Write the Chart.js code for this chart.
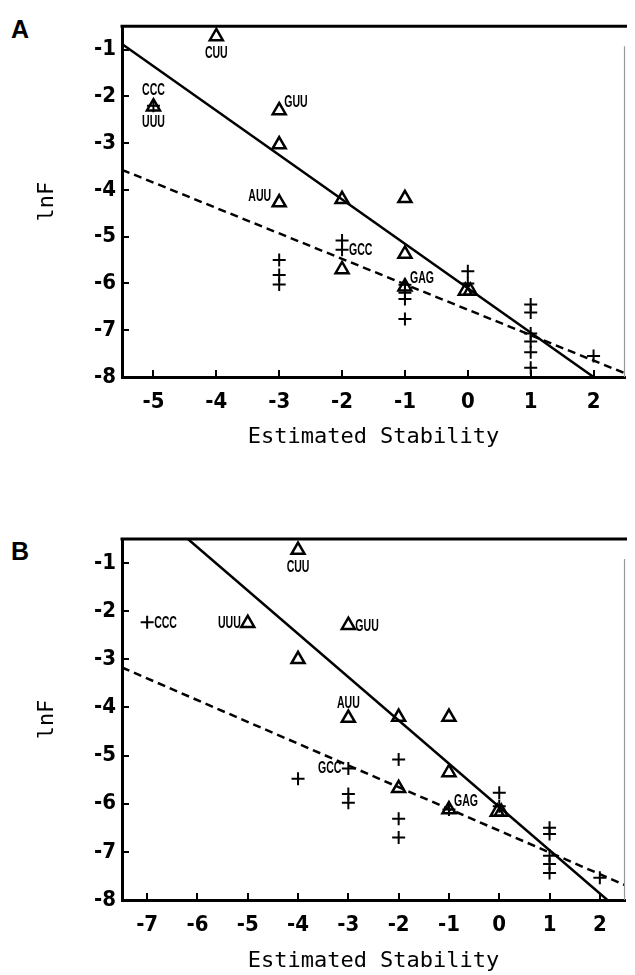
<!DOCTYPE html>
<html>
<head>
<meta charset="utf-8">
<script src="https://cdn.jsdelivr.net/npm/chart.js@4.4.1/dist/chart.umd.min.js"></script>
<style>
html, body { margin: 0; padding: 0; background: #fff; }
body { width: 635px; height: 975px; position: relative; overflow: hidden; }
canvas { position: absolute; left: 0; }
#panelA { top: 0; }
#panelB { top: 480px; }
.letra { position: absolute; font-family: "Liberation Sans", Arial, sans-serif; font-weight: bold; font-size: 25px; line-height: 25px; color: #000; }
</style>
</head>
<body>
<div class="letra" style="left:11px; top:17px;">A</div>
<div class="letra" style="left:11px; top:539px;">B</div>
<canvas id="panelA" width="635" height="480"></canvas>
<canvas id="panelB" width="635" height="495"></canvas>
<script>
// Marcas de los ejes
const ticksY = [-8, -7, -6, -5, -4, -3, -2, -1];
const ticksXA = [-5, -4, -3, -2, -1, 0, 1, 2];
const ticksXB = [-7, -6, -5, -4, -3, -2, -1, 0, 1, 2];

// Panel A: triangulos, cruces y las dos rectas
const triangulosA = [[-4, -0.72], [-5, -2.22], [-3, -2.3], [-3, -3.03], [-3, -4.27], [-2, -4.2], [-1, -4.18],
    [-1, -5.37], [-2, -5.7], [-1, -6.07], [-0.04, -6.16], [0.04, -6.16]];
const crucesA = [[-5, -2.2], [-3, -5.5], [-3, -5.82], [-3, -6.02], [-2, -5.08], [-2, -5.28], [-1, -6.03],
    [-1, -6.2], [-1, -6.33], [-1, -6.76], [0, -5.74], [0, -6.0], [1, -6.45], [1, -6.62], [1, -7.07],
    [1, -7.24], [1, -7.47], [1, -7.8], [2, -7.55]];
const solidaA = [[-5.5, -0.88], [2.0, -8.0]];
const punteadaA = [[-5.5, -3.57], [2.5, -7.92]];
const etiquetasA = [["CUU", -4, -0.72, "abajo"], ["CCC", -5, -2.2, "arriba"], ["UUU", -5, -2.2, "abajo"],
    ["GUU", -3, -2.3, "sup"], ["AUU", -3, -4.27, "izqsup"], ["GCC", -2, -5.28, "der"], ["GAG", -1, -6.07, "sup"]];

// Panel B
const triangulosB = [[-4, -0.73], [-5, -2.25], [-3, -2.29], [-4, -3.0], [-3, -4.22], [-2, -4.2], [-1, -4.2],
    [-1, -5.35], [-2, -5.68], [-1, -6.12], [-0.04, -6.17], [0.04, -6.17]];
const crucesB = [[-7, -2.23], [-4, -5.48], [-3, -5.27], [-3, -5.8], [-3, -5.98], [-2, -5.08], [-2, -6.31],
    [-2, -6.7], [-1, -6.12], [0, -5.77], [0, -6.05], [1, -6.5], [1, -6.63], [1, -7.08], [1, -7.25],
    [1, -7.44], [2, -7.54]];
const solidaB = [[-6.19, -0.5], [2.15, -8.0]];
const punteadaB = [[-7.5, -3.17], [2.5, -7.69]];
const etiquetasB = [["CUU", -4, -0.73, "abajo"], ["CCC", -7, -2.23, "der"], ["UUU", -5, -2.25, "izq"],
    ["GUU", -3, -2.29, "der"], ["AUU", -3, -4.22, "arriba"], ["GCC", -3, -5.27, "izq"], ["GAG", -1, -6.12, "sup"]];

// desplazamiento de cada etiqueta segun donde va
const lugares = {
    abajo: { dx: 0, dy: 17, align: "center" },
    arriba: { dx: 0, dy: -15, align: "center" },
    der: { dx: 7, dy: 1, align: "left" },
    izq: { dx: -7, dy: 0, align: "right" },
    sup: { dx: 5, dy: -8, align: "left" },
    izqsup: { dx: -8, dy: -6, align: "right" },
};

const fuenteNum = "'Liberation Sans Narrow', 'DejaVu Sans Condensed', sans-serif";
const aXY = (arr) => arr.map((p) => ({ x: p[0], y: p[1] }));

const marco = {
    id: "marco",
    afterDraw(chart) {
        const { ctx, chartArea: a, scales } = chart;
        ctx.save();
        ctx.strokeStyle = "#000";
        ctx.lineWidth = 3;
        ctx.beginPath();
        ctx.moveTo(a.left - 1.5, a.top);
        ctx.lineTo(a.right + 2, a.top);
        ctx.stroke();
        ctx.strokeStyle = "#999";
        ctx.lineWidth = 1.2;
        ctx.beginPath();
        ctx.moveTo(a.right - 0.5, a.top + 20);
        ctx.lineTo(a.right - 0.5, a.bottom);
        ctx.stroke();
        // etiquetas de los codones
        ctx.fillStyle = "#000";
        ctx.font = "bold 17px 'Liberation Sans', Arial, sans-serif";
        ctx.textBaseline = "middle";
        chart.options.plugins.marco.etiquetas.forEach((e) => {
            const l = lugares[e[3]];
            const px = scales.x.getPixelForValue(e[1]) + l.dx;
            const py = scales.y.getPixelForValue(e[2]) + l.dy;
            ctx.save();
            ctx.translate(px, py);
            ctx.scale(0.62, 1);
            ctx.textAlign = l.align;
            ctx.fillText(e[0], 0, 0);
            ctx.restore();
        });
        ctx.restore();
    },
};

function grafico(id, c) {
    new Chart(document.getElementById(id), {
        type: "scatter",
        data: {
            datasets: [
                { data: aXY(c.triangulos), pointStyle: "triangle", pointRadius: 7.5, borderColor: "#000", backgroundColor: "rgba(0,0,0,0)", borderWidth: 2.5 },
                { data: aXY(c.cruces), pointStyle: "cross", pointRadius: 6.5, borderColor: "#000", borderWidth: 2 },
                { data: aXY(c.solida), showLine: true, pointRadius: 0, borderColor: "#000", borderWidth: 2.5 },
                { data: aXY(c.punteada), showLine: true, pointRadius: 0, borderColor: "#000", borderWidth: 2.5, borderDash: [8, 5] },
            ],
        },
        options: {
            responsive: false,
            animation: false,
            layout: { padding: { top: c.arriba, right: c.derecha, left: 0, bottom: 0 } },
            plugins: {
                legend: { display: false },
                tooltip: { enabled: false },
                marco: { etiquetas: c.etiquetas },
            },
            scales: {
                x: {
                    type: "linear",
                    min: c.xmin,
                    max: 2.5,
                    afterBuildTicks: (s) => { s.ticks = c.ticksX.map((v) => ({ value: v })); },
                    afterFit: (s) => { s.height = c.altoX; },
                    border: { display: true, color: "#000", width: 3 },
                    grid: { drawOnChartArea: false, drawTicks: true, tickLength: -7, color: "#000", lineWidth: 2 },
                    ticks: { color: "#000", font: { family: fuenteNum, size: 22, weight: "bold" }, padding: 19, maxRotation: 0, autoSkip: false },
                    title: { display: true, text: "Estimated Stability", color: "#000", font: { family: "DejaVu Sans Mono", size: 22 }, padding: { top: 0, bottom: c.padTitulo } },
                },
                y: {
                    type: "linear",
                    min: -8,
                    max: -0.5,
                    afterBuildTicks: (s) => { s.ticks = ticksY.map((v) => ({ value: v })); },
                    afterFit: (s) => { s.width = 122; },
                    border: { display: true, color: "#000", width: 3 },
                    grid: { drawOnChartArea: false, drawTicks: true, tickLength: -7, color: "#000", lineWidth: 2 },
                    ticks: { color: "#000", font: { family: fuenteNum, size: 22, weight: "bold" }, padding: 13, autoSkip: false },
                    title: { display: true, text: "lnF", color: "#000", font: { family: "DejaVu Sans Mono", size: 22 }, padding: { top: 34, bottom: 0 } },
                },
            },
        },
        plugins: [marco],
    });
}

grafico("panelA", {
    triangulos: triangulosA, cruces: crucesA, solida: solidaA, punteada: punteadaA, etiquetas: etiquetasA,
    ticksX: ticksXA, xmin: -5.5, arriba: 15, derecha: 2, altoX: 103, padTitulo: 30,
});
grafico("panelB", {
    triangulos: triangulosB, cruces: crucesB, solida: solidaB, punteada: punteadaB, etiquetas: etiquetasB,
    ticksX: ticksXB, xmin: -7.5, arriba: 59, derecha: 0, altoX: 75, padTitulo: 1,
});
</script>
</body>
</html>
